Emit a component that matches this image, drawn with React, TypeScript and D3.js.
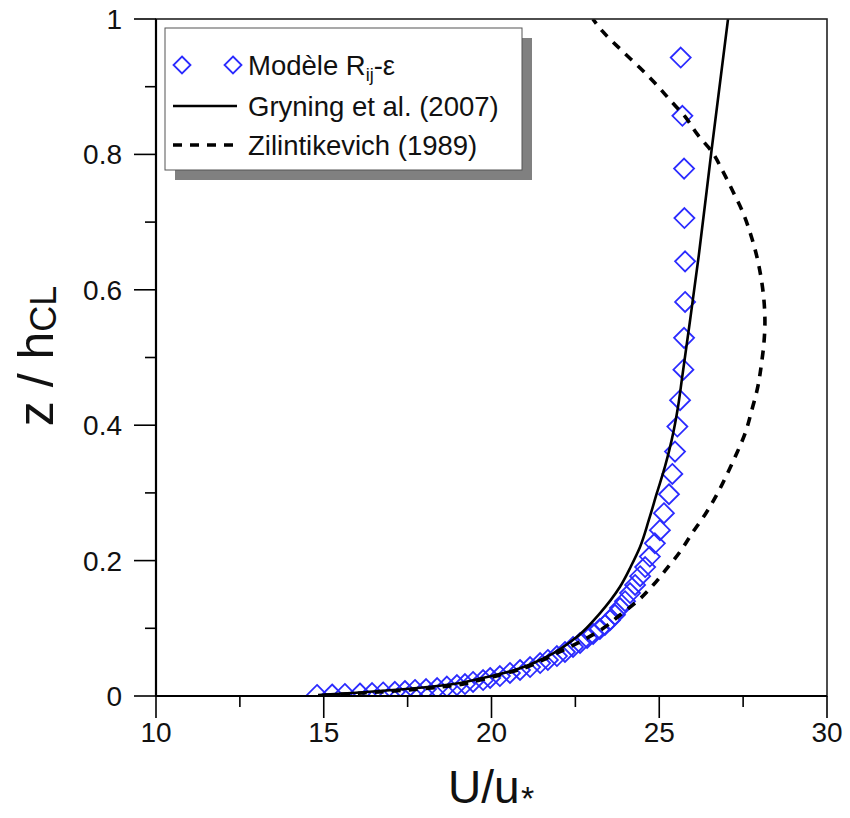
import React from "react";
import * as d3 from "d3";

// Modèle Rij-ε (diamonds): U/u* and z/hCL
const modelU = [25.64, 25.69, 25.74, 25.75, 25.77, 25.77, 25.74, 25.72, 25.62, 25.54, 25.47, 25.39, 25.29, 25.14, 25.02, 24.87, 24.72, 24.58, 24.43, 24.28, 24.13, 23.98, 23.83, 23.68, 23.53, 23.38, 23.23, 23.03, 22.85, 22.64, 22.43, 22.19, 21.95, 21.68, 21.45, 21.15, 20.85, 20.55, 20.25, 19.96, 19.75, 19.45, 19.21, 18.97, 18.67, 18.38, 18.05, 17.72, 17.42, 17.12, 16.77, 16.44, 16.08, 15.63, 15.25, 14.8];
const modelZ = [0.943, 0.857, 0.779, 0.706, 0.642, 0.582, 0.529, 0.482, 0.437, 0.398, 0.361, 0.328, 0.298, 0.27, 0.245, 0.2255, 0.206, 0.1905, 0.177, 0.164, 0.152, 0.14, 0.13, 0.12, 0.112, 0.105, 0.099, 0.0916, 0.0857, 0.0783, 0.0724, 0.065, 0.059, 0.0532, 0.0487, 0.0428, 0.0384, 0.034, 0.0295, 0.0266, 0.0236, 0.0207, 0.0177, 0.0162, 0.014, 0.0118, 0.0103, 0.0089, 0.0074, 0.0062, 0.0052, 0.0044, 0.0037, 0.003, 0.0022, 0.0015];

// Gryning et al. (2007) (solid)
const gryningU = [14.83, 16.08, 17.27, 18.76, 19.66, 20.64, 21.65, 22.55, 23.23, 23.83, 24.16, 24.43, 24.69, 24.93, 25.17, 25.37, 25.56, 25.68, 25.92, 26.18, 26.56, 27.05];
const gryningZ = [0.0015, 0.0052, 0.0096, 0.017, 0.0258, 0.0377, 0.058, 0.0876, 0.1222, 0.1614, 0.192, 0.2205, 0.26, 0.2999, 0.3387, 0.378, 0.4273, 0.4697, 0.5554, 0.6514, 0.8065, 1.0];

// Zilintikevich (1989) (dashed)
const zilU = [15.0, 17.27, 18.76, 19.66, 20.25, 20.95, 21.54, 22.14, 22.74, 23.33, 23.83, 24.33, 24.82, 25.27, 25.62, 26.01, 26.39, 26.71, 27.01, 27.31, 27.56, 27.76, 27.93, 28.05, 28.12, 28.15, 28.12, 28.03, 27.91, 27.73, 27.5, 27.2, 26.9, 26.57, 26.15, 25.77, 25.32, 24.87, 24.43, 23.92, 23.32, 23.02];
const zilZ = [0.001, 0.0081, 0.0148, 0.0236, 0.031, 0.0409, 0.0532, 0.0679, 0.0827, 0.1, 0.1196, 0.1393, 0.164, 0.191, 0.2131, 0.2427, 0.2699, 0.2969, 0.3264, 0.3585, 0.388, 0.4225, 0.455, 0.4919, 0.5214, 0.5529, 0.585, 0.6194, 0.6489, 0.681, 0.7134, 0.7449, 0.7745, 0.804, 0.8287, 0.8557, 0.8804, 0.9055, 0.9276, 0.9517, 0.9813, 1.0];

const xTicks = [10, 15, 20, 25, 30];
const xMinorTicks = [12.5, 17.5, 22.5, 27.5];
const yTicks = [0, 0.2, 0.4, 0.6, 0.8, 1];
const yMinorTicks = [0.1, 0.3, 0.5, 0.7, 0.9];
const yTickLabels = ["0", "0.2", "0.4", "0.6", "0.8", "1"];

const FONT = "'Liberation Sans', Arial, sans-serif";
const BLUE = "#2b2bff";

export default function App() {
  const W = 850, H = 818;
  const x = d3.scaleLinear().domain([10, 30]).range([156, 827]);
  const y = d3.scaleLinear().domain([0, 1]).range([696, 19]);

  const pts = (us: number[], zs: number[]) => us.map((u, i) => [u, zs[i]] as [number, number]);
  const line = d3
    .line<[number, number]>()
    .x((d) => x(d[0]))
    .y((d) => y(d[1]))
    .curve(d3.curveMonotoneY);

  const diamond = (cx: number, cy: number, r: number) =>
    `M${cx},${cy - r}L${cx + r},${cy}L${cx},${cy + r}L${cx - r},${cy}Z`;

  const [x0, x1] = x.range();
  const [yb, yt] = y.range();

  return (
    <svg
      width={W}
      height={H}
      style={{ position: "absolute", left: 0, top: 0, background: "#fff" }}
      fontFamily={FONT}
    >
      <defs>
        <clipPath id="plot">
          <rect x={x0} y={yt} width={x1 - x0} height={yb - yt} />
        </clipPath>
      </defs>

      {/* diamonds */}
      <g clipPath="url(#plot)">
        {modelU.map((u, i) => (
          <path key={i} d={diamond(x(u), y(modelZ[i]), 10)} fill="none" stroke={BLUE} strokeWidth={1.8} />
        ))}
      </g>
      <g clipPath="url(#plot)">
        <path d={line(pts(gryningU, gryningZ)) || ""} fill="none" stroke="#000" strokeWidth={2.6} />
        <path
          d={line(pts(zilU, zilZ)) || ""}
          fill="none"
          stroke="#000"
          strokeWidth={3.6}
          strokeDasharray="9 8"
        />
      </g>

      {/* frame */}
      <rect x={x0} y={yt} width={x1 - x0} height={yb - yt} fill="none" stroke="#222" strokeWidth={1.6} />
      <line x1={x0} x2={x0} y1={yt} y2={yb} stroke="#000" strokeWidth={2.2} />
      <line x1={x0} x2={x1} y1={yb} y2={yb} stroke="#000" strokeWidth={2.2} />

      {/* x ticks */}
      {xTicks.map((t) => (
        <g key={"xt" + t}>
          <line x1={x(t)} x2={x(t)} y1={yb} y2={yb + 22} stroke="#000" strokeWidth={1.6} />
          <text x={x(t)} y={yb + 46} textAnchor="middle" fontSize={28} fill="#111">
            {t}
          </text>
        </g>
      ))}
      {xMinorTicks.map((t) => (
        <line key={"xm" + t} x1={x(t)} x2={x(t)} y1={yb} y2={yb + 11} stroke="#000" strokeWidth={1.6} />
      ))}

      {/* y ticks */}
      {yTicks.map((t, i) => (
        <g key={"yt" + t}>
          <line x1={x0 - 22} x2={x0} y1={y(t)} y2={y(t)} stroke="#000" strokeWidth={1.6} />
          <text x={x0 - 34} y={y(t) + 10} textAnchor="end" fontSize={28} fill="#111">
            {yTickLabels[i]}
          </text>
        </g>
      ))}
      {yMinorTicks.map((t) => (
        <line key={"ym" + t} x1={x0 - 11} x2={x0} y1={y(t)} y2={y(t)} stroke="#000" strokeWidth={1.6} />
      ))}

      {/* axis titles */}
      <text x={448} y={803} fontSize={46} fill="#111">
        U/u
      </text>
      <text x={521} y={810} fontSize={34} fill="#111">
        *
      </text>
      <text transform="translate(53,356) rotate(-90)" textAnchor="middle" fontSize={50} fill="#111">
        z / h
        <tspan fontSize={36} dy={3}>CL</tspan>
      </text>

      {/* legend */}
      <rect x={175} y={38} width={357} height={142} fill="#808080" />
      <rect x={165} y={28} width={357} height={142} fill="#fff" stroke="#555" strokeWidth={1} />
      <path d={diamond(182, 65, 8.5)} fill="none" stroke={BLUE} strokeWidth={1.8} />
      <path d={diamond(233, 65, 8.5)} fill="none" stroke={BLUE} strokeWidth={1.8} />
      <text x={248} y={75} fontSize={27.5} fill="#111">
        Modèle R<tspan fontSize={18} dy={6}>ij</tspan>
        <tspan dy={-6}>-ε</tspan>
      </text>
      <line x1={173} x2={237} y1={106} y2={106} stroke="#000" strokeWidth={2.6} />
      <text x={248} y={116} fontSize={27.5} fill="#111">
        Gryning et al. (2007)
      </text>
      <line x1={173} x2={237} y1={145} y2={145} stroke="#000" strokeWidth={3.6} strokeDasharray="9 8" />
      <text x={248} y={155} fontSize={27.5} fill="#111">
        Zilintikevich (1989)
      </text>
    </svg>
  );
}
